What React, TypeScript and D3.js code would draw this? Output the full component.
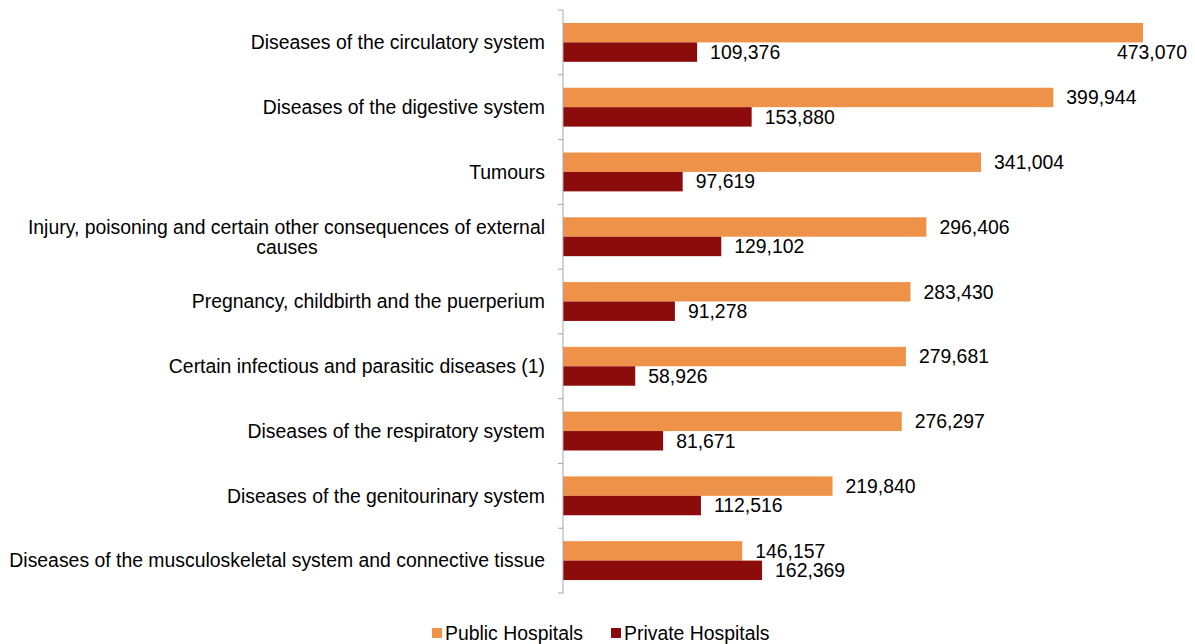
import React from "react";
import * as d3 from "d3";

const categories = [
  "Diseases of the circulatory system",
  "Diseases of the digestive system",
  "Tumours",
  "Injury, poisoning and certain other consequences of external causes",
  "Pregnancy, childbirth and the puerperium",
  "Certain infectious and parasitic diseases (1)",
  "Diseases of the respiratory system",
  "Diseases of the genitourinary system",
  "Diseases of the musculoskeletal system and connective tissue",
];
const categoryLines: string[][] = [
  ["Diseases of the circulatory system"],
  ["Diseases of the digestive system"],
  ["Tumours"],
  ["Injury, poisoning and certain other consequences of external", "causes"],
  ["Pregnancy, childbirth and the puerperium"],
  ["Certain infectious and parasitic diseases (1)"],
  ["Diseases of the respiratory system"],
  ["Diseases of the genitourinary system"],
  ["Diseases of the musculoskeletal system and connective tissue"],
];
const publicValues = [473070, 399944, 341004, 296406, 283430, 279681, 276297, 219840, 146157];
const privateValues = [109376, 153880, 97619, 129102, 91278, 58926, 81671, 112516, 162369];
const seriesNames = ["Public Hospitals", "Private Hospitals"];
const colors = ["#EE9249", "#8C0B0B"];

const W = 1195, H = 644;
const axisX = 563;
const fmt = d3.format(",");
const font = "'Liberation Sans', Arial, sans-serif";
const fs = 19.4;

export default function App() {
  const y = d3.scaleBand<string>().domain(categories).range([10, 593]).paddingInner(0).paddingOuter(0);
  const x = d3.scaleLinear().domain([0, 500000]).range([axisX, axisX + 613]);
  const inner = d3.scaleBand<number>().domain([0, 1]).range([0.2, 0.8]);
  const bw = y.bandwidth();
  const barH = inner.bandwidth() * bw;
  const ticks = d3.range(categories.length + 1).map((i) => 10 + i * bw);

  return (
    <svg width={W} height={H} style={{ position: "absolute", left: 0, top: 0, background: "#fff" }} fontFamily={font}>
      {categories.map((c, i) => {
        const y0 = y(c)!;
        const vals = [publicValues[i], privateValues[i]];
        return (
          <g key={c}>
            {vals.map((v, s) => {
              const by = y0 + inner(s)! * bw;
              const end = x(v);
              const label = fmt(v);
              const estW = label.length * fs * 0.52;
              const overflow = end + 12 + estW > W - 4;
              return (
                <g key={s}>
                  <rect x={axisX} y={by} width={end - axisX} height={barH} fill={colors[s]} />
                  <text
                    x={overflow ? W - 8 : end + 13}
                    y={overflow ? by + barH * 1.5 : by + barH / 2}
                    dy="0.35em"
                    textAnchor={overflow ? "end" : "start"}
                    fontSize={fs}
                    fill="#000"
                  >
                    {label}
                  </text>
                </g>
              );
            })}
            {categoryLines[i].length === 1 ? (
              <text x={545} y={y0 + bw / 2} dy="0.35em" textAnchor="end" fontSize={fs} fill="#000">
                {categoryLines[i][0]}
              </text>
            ) : (
              <g>
                <text x={545} y={y0 + bw / 2 - 10} dy="0.35em" textAnchor="end" fontSize={fs} fill="#000">
                  {categoryLines[i][0]}
                </text>
                <text x={287} y={y0 + bw / 2 + 10} dy="0.35em" textAnchor="middle" fontSize={fs} fill="#000">
                  {categoryLines[i][1]}
                </text>
              </g>
            )}
          </g>
        );
      })}
      <line x1={axisX} x2={axisX} y1={10} y2={593} stroke="#A6A6A6" strokeWidth={1} />
      {ticks.map((t, i) => (
        <line key={i} x1={axisX - 5} x2={axisX} y1={t} y2={t} stroke="#A6A6A6" strokeWidth={1} />
      ))}
      {seriesNames.map((n, s) => {
        const lx = s === 0 ? 432 : 611;
        return (
          <g key={n}>
            <rect x={lx} y={628} width={10} height={10} fill={colors[s]} />
            <text x={lx + 13} y={633} dy="0.35em" fontSize={fs} fill="#000">
              {n}
            </text>
          </g>
        );
      })}
    </svg>
  );
}
